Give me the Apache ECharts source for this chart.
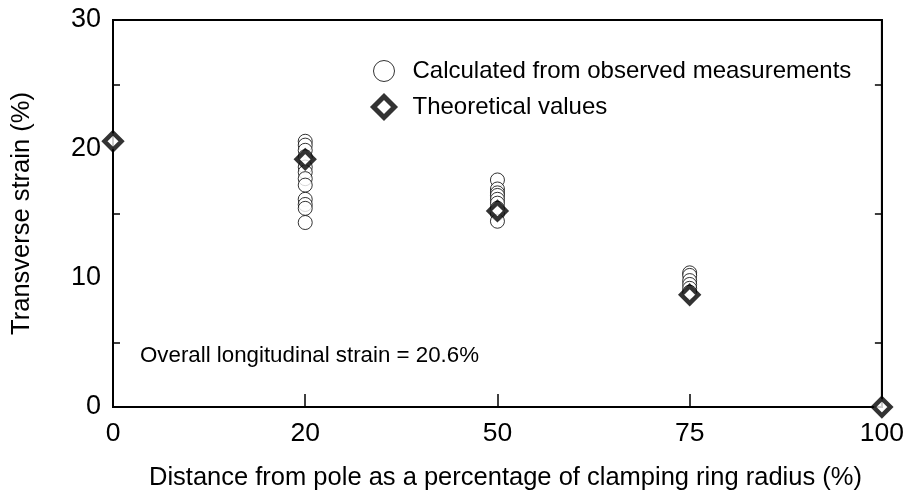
<!DOCTYPE html>
<html>
<head>
<meta charset="utf-8">
<script src="https://cdn.jsdelivr.net/npm/echarts@6/dist/echarts.min.js"></script>
<style>
  html, body { margin: 0; padding: 0; background: #fff; }
  #chart { width: 907px; height: 496px; }
</style>
</head>
<body>
<div id="chart"></div>
<script>
// Positions along the radius (equally spaced categories)
var categories = ['0', '20', '50', '75', '100'];

// Strain derived from the observed measurements at each station
var observed20 = [20.6, 20.3, 19.9, 19.4, 18.6, 18.2, 17.7, 17.2, 16.1, 15.7, 15.4, 14.3];
var observed50 = [17.6, 16.9, 16.6, 16.4, 16.1, 15.8, 15.4, 15.0, 14.4];
var observed75 = [10.4, 10.2, 9.8, 9.5, 9.2, 8.9];

// Theoretical transverse strain at each station
var theoretical = [20.6, 19.2, 15.2, 8.7, 0];

var yTicks = [0, 10, 20, 30];

var observedData = []
  .concat(observed20.map(function (v) { return ['20', v]; }))
  .concat(observed50.map(function (v) { return ['50', v]; }))
  .concat(observed75.map(function (v) { return ['75', v]; }));
var theoreticalData = theoretical.map(function (v, i) { return [categories[i], v]; });

var FONT = 'Liberation Sans, Arial, sans-serif';
var chart = echarts.init(document.getElementById('chart'));

chart.setOption({
  animation: false,
  backgroundColor: '#fff',
  textStyle: { fontFamily: FONT, color: '#000' },
  grid: {
    left: 113, right: 22, top: 20, bottom: 89,
    show: true, borderColor: '#000', borderWidth: 2, backgroundColor: 'transparent'
  },
  legend: {
    orient: 'vertical',
    left: 371, top: 59,
    padding: 0,
    itemGap: 11,
    itemWidth: 21, itemHeight: 21,
    textStyle: {
      fontFamily: FONT, fontSize: 24, color: '#000',
      lineHeight: 20, padding: [0, 0, 0, 13]
    },
    data: [
      { name: 'Calculated from observed measurements', icon: 'circle',
        itemStyle: { color: '#fff', borderColor: '#000', borderWidth: 1 } },
      { name: 'Theoretical values', icon: 'diamond',
        itemStyle: { color: '#fff', borderColor: '#000', borderWidth: 5 } }
    ]
  },
  xAxis: [{
    type: 'category',
    data: categories,
    boundaryGap: false,
    position: 'bottom',
    axisLine: { lineStyle: { color: '#000', width: 2 } },
    axisTick: { inside: true, length: 13, lineStyle: { color: '#000', width: 1.5 } },
    axisLabel: { fontFamily: FONT, fontSize: 26.5, color: '#000', margin: 13 },
    splitLine: { show: false },
    name: 'Distance from pole as a percentage of clamping ring radius (%)',
    nameLocation: 'middle',
    nameGap: 58,
    nameTextStyle: { fontFamily: FONT, fontSize: 25.5, color: '#000', padding: [0, 0, 0, 16] }
  }],
  yAxis: [{
    type: 'value',
    min: 0, max: 30, interval: 10,
    position: 'left',
    axisLine: { show: true, lineStyle: { color: '#000', width: 2 } },
    axisTick: { inside: true, length: 12, lineStyle: { color: '#000', width: 1.5 } },
    minorTick: { show: true, splitNumber: 2, length: 7, lineStyle: { color: '#000', width: 1.5 } },
    axisLabel: {
      fontFamily: FONT, fontSize: 27, color: '#000', margin: 12,
      formatter: function (v) { return yTicks.indexOf(v) >= 0 ? String(v) : ''; }
    },
    splitLine: { show: false },
    name: 'Transverse strain (%)',
    nameLocation: 'middle',
    nameGap: 78,
    nameRotate: 90,
    nameTextStyle: { fontFamily: FONT, fontSize: 25.5, color: '#000' }
  }, {
    type: 'value',
    min: 0, max: 30, interval: 10,
    position: 'right',
    axisLine: { show: true, lineStyle: { color: '#000', width: 2 } },
    axisTick: { inside: true, length: 12, lineStyle: { color: '#000', width: 1.5 } },
    minorTick: { show: true, splitNumber: 2, length: 7, lineStyle: { color: '#000', width: 1.5 } },
    axisLabel: { show: false },
    splitLine: { show: false }
  }],
  graphic: [{
    type: 'text',
    left: 140, top: 345,
    style: {
      text: 'Overall longitudinal strain = 20.6%',
      fontFamily: FONT, fontSize: 22.3, fill: '#000'
    }
  }],
  series: [{
    name: 'Calculated from observed measurements',
    type: 'scatter',
    data: observedData,
    symbol: 'circle',
    symbolSize: 14,
    itemStyle: { color: '#fff', borderColor: '#000', borderWidth: 1 },
    emphasis: { disabled: true },
    z: 2
  }, {
    name: 'Theoretical values',
    type: 'scatter',
    data: theoreticalData,
    symbol: 'diamond',
    symbolSize: 17,
    itemStyle: { color: '#fff', borderColor: '#000', borderWidth: 4.5 },
    emphasis: { disabled: true },
    clip: false,
    z: 3
  }]
});
</script>
</body>
</html>
